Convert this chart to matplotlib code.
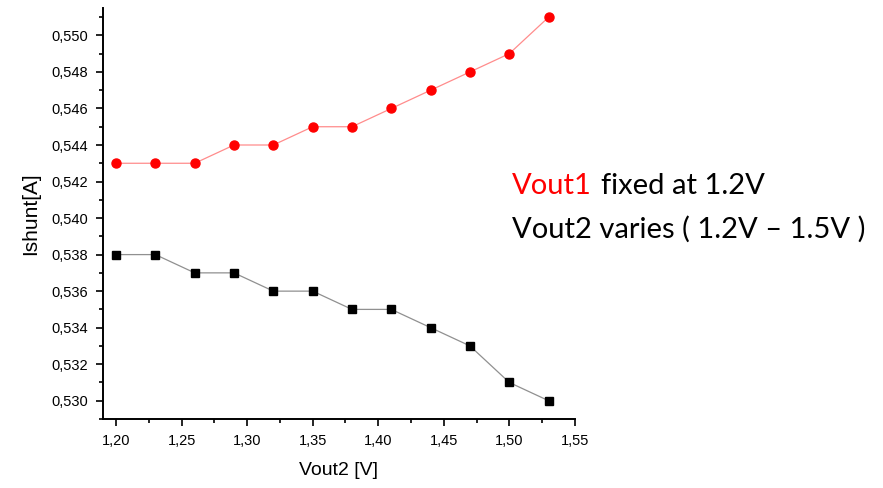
import matplotlib.pyplot as plt
from matplotlib.ticker import MultipleLocator, FuncFormatter

vout2 = [1.20, 1.23, 1.26, 1.29, 1.32, 1.35, 1.38, 1.41, 1.44, 1.47, 1.50, 1.53]
ishunt_red = [0.543, 0.543, 0.543, 0.544, 0.544, 0.545, 0.545, 0.546, 0.547, 0.548, 0.549, 0.551]
ishunt_black = [0.538, 0.538, 0.537, 0.537, 0.536, 0.536, 0.535, 0.535, 0.534, 0.533, 0.531, 0.530]

plt.rcParams["font.family"] = ["Liberation Sans", "DejaVu Sans"]

fig = plt.figure(figsize=(8.83, 4.88), dpi=100)
ax = fig.add_axes([0.1166, 0.1414, 0.651 - 0.1166, 0.9836 - 0.1414])

ax.plot(vout2, ishunt_red, color="#ff8c8c", lw=0.9, zorder=1)
ax.plot(vout2, ishunt_red, "o", color="#ff0000", ms=6.5, mec="#ff0000", zorder=2)
ax.plot(vout2, ishunt_black, color="#909090", lw=0.9, zorder=1)
ax.plot(vout2, ishunt_black, "s", color="black", ms=5.5, zorder=2)

ax.set_xlim(1.19, 1.55)
ax.set_ylim(0.529, 0.5515)
ax.xaxis.set_major_locator(MultipleLocator(0.05))
ax.xaxis.set_minor_locator(MultipleLocator(0.025))
ax.yaxis.set_major_locator(MultipleLocator(0.002))
ax.yaxis.set_minor_locator(MultipleLocator(0.001))
ax.xaxis.set_major_formatter(FuncFormatter(lambda v, p: f"{v:.2f}".replace(".", ",")))
ax.yaxis.set_major_formatter(FuncFormatter(lambda v, p: f"{v:.3f}".replace(".", ",")))

for s in ["top", "right"]:
    ax.spines[s].set_visible(False)
for s in ["left", "bottom"]:
    ax.spines[s].set_linewidth(1.4)

ax.tick_params(which="major", direction="out", length=5, width=1.2, labelsize=10.5, pad=6)
ax.tick_params(which="minor", direction="out", length=3, width=1.2)

ax.set_xlabel("Vout2 [V]", fontsize=14, labelpad=10)
ax.set_ylabel("Ishunt[A]", fontsize=15, labelpad=8)

note_font = ["Lato", "DejaVu Sans"]
t1 = fig.text(0.58, 0.592, "Vout1", color="#ff0000", fontsize=21, family=note_font, va="bottom")
ax.annotate("fixed at 1.2V", xy=(1, 0), xycoords=t1, xytext=(9, 0), textcoords="offset pixels",
            color="black", fontsize=21, family=note_font, va="bottom", ha="left",
            annotation_clip=False)
fig.text(0.58, 0.502, "Vout2 varies ( 1.2V \u2013 1.5V )", color="black", fontsize=21,
         family=note_font, va="bottom")

fig.savefig("out.png", dpi=100)
